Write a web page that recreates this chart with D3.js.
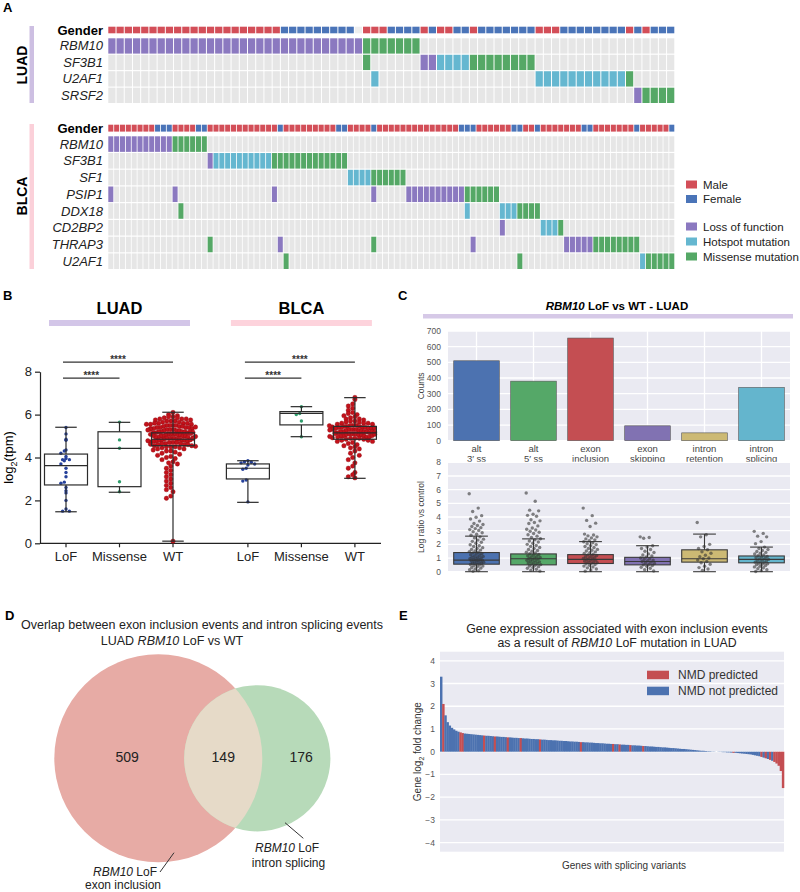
<!DOCTYPE html>
<html>
<head>
<meta charset="utf-8">
<script src="https://cdn.jsdelivr.net/npm/d3@7"></script>
<style>
  body { margin: 0; background: #fff; }
  text { font-family: "Liberation Sans", Arial, Helvetica, sans-serif; }
</style>
</head>
<body>
<div id="fig"></div>
<script>
'use strict';

// ---------- panel A data (runs: [firstCol, lastCol, code]) ----------
const luadGenes = ['RBM10', 'SF3B1', 'U2AF1', 'SRSF2'];
const luadCols = 69;
const luadGender = [[0,20,'male'],[21,29,'female'],[31,33,'male'],[34,37,'female'],[38,38,'male'],
  [39,39,'female'],[40,41,'male'],[42,43,'female'],[44,44,'male'],[45,51,'female'],[52,54,'male'],
  [55,62,'female'],[63,63,'male'],[64,64,'female'],[65,65,'male'],[66,68,'female']];
const luadRuns = [
  [[0,30,'L'],[31,37,'S']],
  [[31,31,'S'],[38,39,'L'],[40,43,'H'],[44,51,'S']],
  [[32,32,'H'],[52,62,'H'],[63,63,'S']],
  [[64,64,'L'],[65,68,'S']]
];

const blcaGenes = ['RBM10', 'SF3B1', 'SF1', 'PSIP1', 'DDX18', 'CD2BP2', 'THRAP3', 'U2AF1'];
const blcaCols = 97;
const blcaGender = [[0,7,'male'],[8,10,'female'],[11,14,'male'],[15,16,'female'],[17,28,'male'],
  [29,29,'female'],[30,38,'male'],[39,40,'female'],[41,44,'male'],[45,45,'female'],[46,59,'male'],
  [60,62,'female'],[63,68,'male'],[69,70,'female'],[71,72,'male'],[73,73,'female'],[74,80,'male'],
  [81,82,'female'],[83,89,'male'],[90,90,'female'],[91,95,'male'],[96,96,'female']];
const blcaRuns = [
  [[0,10,'L'],[11,16,'S']],
  [[17,17,'L'],[18,27,'H'],[28,40,'S']],
  [[41,44,'H'],[45,50,'S']],
  [[0,0,'L'],[11,11,'L'],[28,28,'L'],[45,45,'L'],[51,60,'L'],[61,66,'S']],
  [[12,12,'S'],[61,61,'H'],[67,69,'H'],[70,73,'S']],
  [[67,67,'L'],[74,76,'H'],[77,77,'S']],
  [[17,17,'S'],[29,29,'L'],[45,45,'S'],[62,62,'L'],[78,82,'L'],[83,90,'S']],
  [[30,30,'S'],[70,70,'S'],[91,91,'H'],[92,96,'S']]
];
const legendGender = [['Male','male'],['Female','female']];
const legendMut = [['Loss of function','L'],['Hotspot mutation','H'],['Missense mutation','S']];

// ---------- panel B data ----------
const bGroups = ['LoF', 'Missense', 'WT'];
// [lowWhisker, q1, median, q3, highWhisker]
const luadBox = [[1.47,2.72,3.62,4.16,5.41],[2.38,2.64,4.43,5.2,5.64],[0.1,4.55,4.85,5.15,6.11]];
const blcaBox = [[1.91,3.0,3.5,3.7,3.85],[4.97,5.52,6.06,6.14,6.37],[3.03,4.85,5.15,5.45,6.79]];
const luadLoF = [5.4,5.1,4.85,4.8,4.35,4.3,4.2,4.05,3.95,3.9,3.9,3.85,3.7,3.5,3.3,3.1,2.85,2.8,2.6,2.45,2.35,2.0,1.6,1.5,1.5];
const luadMissense = [5.65,4.82,4.43,2.87,2.4];
const luadWT = [6.1,6.0,5.95,5.9,5.9,5.85,5.85,5.8,5.8,5.8,5.75,5.75,5.7,5.7,5.7,5.65,5.65,5.6,5.6,5.6,5.6,
  5.55,5.55,5.55,5.5,5.5,5.5,5.5,5.45,5.45,5.45,5.4,5.4,5.4,5.4,5.35,5.35,5.35,5.3,5.3,5.3,5.3,5.25,5.25,
  5.25,5.2,5.2,5.2,5.2,5.15,5.15,5.15,5.1,5.1,5.1,5.1,5.05,5.05,5.05,5.0,5.0,5.0,5.0,4.95,4.95,4.95,4.9,
  4.9,4.9,4.9,4.85,4.85,4.85,4.8,4.8,4.8,4.8,4.75,4.75,4.75,4.7,4.7,4.7,4.65,4.65,4.65,4.6,4.6,4.6,4.55,
  4.55,4.5,4.5,4.5,4.45,4.45,4.4,4.4,4.35,4.3,4.3,4.25,4.2,4.15,4.1,4.05,4.0,3.95,3.9,3.8,3.75,3.7,3.6,
  3.5,3.4,3.3,3.2,3.1,3.0,2.9,2.8,2.7,2.6,2.5,2.4,2.2,2.1,0.1,
  5.22,5.12,5.02,4.92,4.82,4.72,4.62,5.32,5.42,4.52,5.08,4.98,4.88,4.78,5.18,5.28];
const blcaLoF = [3.85,3.8,3.78,3.75,3.7,3.65,3.5,3.45,2.95,2.9,1.93];
const blcaMissense = [6.37,6.05,6.0,5.7,4.97];
const blcaWT = [6.8,6.7,6.5,6.4,6.3,6.2,6.1,6.05,6.0,5.95,5.9,5.85,5.8,5.8,5.75,5.7,5.7,5.65,5.65,5.6,5.6,
  5.6,5.55,5.55,5.5,5.5,5.5,5.45,5.45,5.45,5.4,5.4,5.4,5.4,5.35,5.35,5.35,5.3,5.3,5.3,5.3,5.25,5.25,5.25,
  5.2,5.2,5.2,5.2,5.15,5.15,5.15,5.1,5.1,5.1,5.1,5.05,5.05,5.05,5.0,5.0,5.0,4.95,4.95,4.95,4.9,4.9,4.9,
  4.85,4.85,4.8,4.8,4.75,4.75,4.7,4.65,4.6,4.55,4.5,4.45,4.4,4.3,4.2,4.1,4.0,3.9,3.75,3.6,3.5,3.3,3.2,3.1,3.05,
  5.22,5.12,5.02,4.92,5.32,5.42,5.08,4.98,5.18,5.28,5.38,5.48];
const bYTicks = [0, 2, 4, 6, 8];

// ---------- panel C data ----------
const eventTypes = ['alt 3′ ss', 'alt 5′ ss', 'exon inclusion', 'exon skipping', 'intron retention', 'intron splicing'];
const eventLabels = [['alt','3′ ss'],['alt','5′ ss'],['exon','inclusion'],['exon','skipping'],['intron','retention'],['intron','splicing']];
const eventCounts = [510, 380, 655, 95, 50, 340];
const eventColors = ['#4c72b0', '#55a868', '#c44e52', '#8172b2', '#ccb974', '#64b5cd'];
const ratioBox = [[0,0.55,0.85,1.4,2.6],[0,0.5,0.95,1.3,2.4],[0,0.6,0.9,1.25,2.2],
  [0,0.5,0.75,1.05,1.9],[0,0.7,0.95,1.6,2.75],[0,0.65,0.9,1.15,1.8]];
const ratioAlt3 = [5.7,4.65,4.4,4.1,3.98,3.85,3.7,3.52,3.45,3.38,3.3,3.22,3.15,3.08,3.02,2.93,2.85,2.74,2.66,
  2.55,2.47,2.38,2.31,2.22,2.15,2.08,1.97,1.9,1.84,1.76,1.7,1.63,1.58,1.52,1.47,1.42,1.38,1.33,1.29,1.24,
  1.2,1.16,1.12,1.08,1.05,1.01,0.98,0.95,0.92,0.88,0.85,0.82,0.79,0.76,0.73,0.7,0.66,0.63,0.6,0.56,0.53,
  0.49,0.45,0.41,0.36,0.31,0.26,0.2,0.14,0.08,0.03];
const ratioAlt5 = [5.75,5.15,4.5,4.45,4.2,4.12,4.05,3.8,3.72,3.6,3.52,3.35,3.2,3.1,3.05,2.96,2.88,2.79,2.7,
  2.6,2.5,2.41,2.33,2.25,2.17,2.08,2.0,1.92,1.85,1.77,1.7,1.62,1.55,1.49,1.43,1.37,1.31,1.26,1.21,1.16,
  1.12,1.08,1.04,1.0,0.96,0.92,0.88,0.84,0.8,0.76,0.72,0.68,0.64,0.6,0.56,0.52,0.47,0.42,0.37,0.31,0.25,
  0.18,0.11,0.04];
const ratioIncl = [4.65,4.1,3.75,3.55,3.3,2.75,2.68,2.62,2.55,2.47,2.4,2.33,2.26,2.19,2.12,2.05,1.98,1.91,
  1.84,1.77,1.7,1.63,1.57,1.51,1.45,1.39,1.33,1.28,1.23,1.18,1.13,1.09,1.05,1.01,0.97,0.93,0.89,0.85,0.81,
  0.77,0.73,0.69,0.65,0.61,0.57,0.52,0.47,0.41,0.35,0.28,0.2,0.12,0.04];
const ratioSkip = [2.55,2.5,2.45,1.9,1.8,1.7,1.62,1.5,1.4,1.3,1.22,1.15,1.08,1.0,0.95,0.9,0.85,0.8,0.75,0.7,
  0.65,0.6,0.55,0.5,0.45,0.4,0.33,0.25,0.15,0.05];
const ratioRet = [3.6,2.7,2.55,2.0,1.85,1.7,1.6,1.45,1.35,1.2,1.1,1.0,0.95,0.85,0.75,0.65,0.55,0.4,0.3,0.2,0.1];
const ratioSpl = [2.95,2.8,2.6,2.55,2.2,2.05,1.8,1.7,1.62,1.55,1.48,1.41,1.35,1.29,1.23,1.17,1.12,1.07,1.02,
  0.98,0.94,0.9,0.86,0.82,0.78,0.74,0.7,0.66,0.62,0.58,0.54,0.5,0.45,0.4,0.35,0.29,0.22,0.15,0.08,0.02];
const ratioPoints = [ratioAlt3, ratioAlt5, ratioIncl, ratioSkip, ratioRet, ratioSpl];

// ---------- panel D data ----------
const vennCounts = [509, 149, 176];

// ---------- panel E data ----------
const foldChange = [3.3,2.1,1.6,1.3,1.15,1.05,0.98,0.92,0.88,0.85,0.82,
  0.8,0.79,0.78,0.77,0.76,0.75,0.74,0.73,0.72,0.71,
  0.70,0.70,0.69,0.68,0.67,0.67,0.66,0.65,0.65,0.64,
  0.63,0.63,0.62,0.61,0.61,0.60,0.60,0.59,0.58,0.58,
  0.57,0.56,0.56,0.55,0.55,0.54,0.53,0.53,0.52,0.51,
  0.51,0.50,0.50,0.49,0.48,0.48,0.47,0.47,0.46,0.45,
  0.45,0.44,0.44,0.43,0.42,0.42,0.41,0.41,0.40,0.40,
  0.39,0.38,0.38,0.37,0.37,0.36,0.35,0.35,0.34,0.34,
  0.33,0.33,0.32,0.31,0.31,0.30,0.30,0.29,0.28,0.28,
  0.27,0.27,0.26,0.25,0.25,0.24,0.23,0.23,0.22,0.21,
  0.21,0.20,0.19,0.19,0.18,0.17,0.16,0.16,0.15,0.14,
  0.13,0.12,0.12,0.11,0.10,0.09,0.08,0.07,0.06,0.05,
  0.04,0.04,0.03,0.02,0.02,0.01,0.01,0.00,-0.01,-0.01,
  -0.02,-0.02,-0.03,-0.03,-0.04,-0.05,-0.05,-0.06,-0.07,-0.08,
  -0.09,-0.10,-0.11,-0.12,-0.14,-0.16,-0.18,-0.20,-0.23,-0.26,
  -0.29,-0.32,-0.36,-0.40,-0.45,-0.52,-0.62,-0.85,-1.6];
const nmdPredicted = [1,9,10,20,25,31,37,46,65,80,83,88,94,136,149,151,153,155,156,157,158,159];
const eYTicks = [-4,-3,-2,-1,0,1,2,3,4];

// ---------- drawing ----------
const COLORS = { male: '#d34e58', female: '#4a74b8', L: '#8b79c0', H: '#65b7d0', S: '#55a866' };
const svg = d3.select('#fig').append('svg').attr('width', 800).attr('height', 892);

function richText(g, x, y, parts) {
  const t = g.append('text').attr('x', x).attr('y', y);
  parts.forEach(p => t.append('tspan').text(p[0]).attr('font-style', p[1] ? 'italic' : null));
  return t;
}

function panelLetter(txt, x, y) {
  svg.append('text').attr('x', x).attr('y', y).attr('font-size', 13).attr('font-weight', 'bold').text(txt);
}

function expand(runs, n) {
  const cells = d3.range(n).map(i => ({ i: i, v: null }));
  runs.forEach(r => { for (let i = r[0]; i <= r[1]; i++) cells[i].v = r[2]; });
  return cells;
}

function oncoprint(genes, runs, gender, n, genderY, rowsRange, pad) {
  const g = svg.append('g');
  const x = d3.scaleBand().domain(d3.range(n)).range([108.3, 674.3]).paddingInner(pad);
  const y = d3.scaleBand().domain(genes).range(rowsRange).paddingInner(0.07);

  g.selectAll('.gen').data(expand(gender, n)).join('rect')
    .attr('x', d => x(d.i)).attr('width', x.bandwidth())
    .attr('y', genderY[0]).attr('height', genderY[1] - genderY[0])
    .attr('fill', d => d.v ? COLORS[d.v] : '#eeeeee');

  genes.forEach((gene, gi) => {
    g.append('g').selectAll('rect').data(expand(runs[gi], n)).join('rect')
      .attr('x', d => x(d.i)).attr('width', x.bandwidth())
      .attr('y', y(gene)).attr('height', y.bandwidth())
      .attr('fill', d => d.v ? COLORS[d.v] : '#e6e6e6');
    g.append('text').attr('x', 103).attr('y', y(gene) + y.bandwidth() / 2 + 4.5)
      .attr('text-anchor', 'end').attr('font-size', 13).attr('font-style', 'italic')
      .attr('fill', '#222').text(gene);
  });
  g.append('text').attr('x', 103).attr('y', (genderY[0] + genderY[1]) / 2 + 4.5)
    .attr('text-anchor', 'end').attr('font-size', 13).attr('font-weight', 'bold').text('Gender');
}

// ---- Panel A ----
panelLetter('A', 3, 12);
oncoprint(luadGenes, luadRuns, luadGender, luadCols, [26.7, 33.3], [38.3, 103], 0.12);
oncoprint(blcaGenes, blcaRuns, blcaGender, blcaCols, [124.7, 131.6], [136.3, 269], 0.14);

svg.append('rect').attr('x', 29.5).attr('y', 26).attr('width', 4.5).attr('height', 77).attr('fill', '#cdbfe2');
svg.append('rect').attr('x', 29.5).attr('y', 124).attr('width', 4.5).attr('height', 145).attr('fill', '#fbd0d9');
svg.append('text').attr('transform', 'translate(27,65)rotate(-90)').attr('text-anchor', 'middle')
  .attr('font-size', 14).attr('font-weight', 'bold').text('LUAD');
svg.append('text').attr('transform', 'translate(27,196)rotate(-90)').attr('text-anchor', 'middle')
  .attr('font-size', 14).attr('font-weight', 'bold').text('BLCA');

const legendItems = legendGender.map((d, k) => ({ label: d[0], code: d[1], y: 184.5 + k * 14.5 }))
  .concat(legendMut.map((d, k) => ({ label: d[0], code: d[1], y: 226.5 + k * 15 })));
const leg = svg.append('g').selectAll('g').data(legendItems).join('g');
leg.append('rect').attr('x', 686).attr('y', d => d.y - 4).attr('width', 11).attr('height', 8)
  .attr('fill', d => COLORS[d.code]);
leg.append('text').attr('x', 703).attr('y', d => d.y + 4).attr('font-size', 11.5).attr('fill', '#222')
  .text(d => d.label);

// ---- Panel B ----
panelLetter('B', 3, 300);
const bY = d3.scaleLinear().domain([0, 8]).range([543.3, 371.7]);
const bX = d3.scaleLinear().domain([0, 1]).range([66, 119.5]);
const bAxisX = 40;
const bg = svg.append('g');

bg.append('g').attr('transform', `translate(${bAxisX},0)`)
  .call(d3.axisLeft(bY).tickValues(bYTicks).tickSize(5).tickSizeOuter(0).tickPadding(3))
  .call(a => a.selectAll('text').attr('font-size', 13).attr('fill', '#222')
    .attr('font-family', '"Liberation Sans", Arial, sans-serif'))
  .call(a => a.selectAll('line,path').attr('stroke', '#222').attr('stroke-width', 1.2));
bg.append('line').attr('x1', bAxisX).attr('x2', 381).attr('y1', bY(0)).attr('y2', bY(0))
  .attr('stroke', '#222').attr('stroke-width', 1.2);
const yl = bg.append('text').attr('transform', `translate(13,${bY(4)})rotate(-90)`)
  .attr('text-anchor', 'middle').attr('font-size', 13);
yl.append('tspan').text('log');
yl.append('tspan').text('2').attr('font-size', 9).attr('dy', 4);
yl.append('tspan').text('(tpm)').attr('dy', -4);

const bSets = [
  { name: 'LUAD', box: luadBox, pts: [luadLoF, luadMissense, luadWT], offset: 0, bar: '#d3c6e8' },
  { name: 'BLCA', box: blcaBox, pts: [blcaLoF, blcaMissense, blcaWT], offset: 3.4, bar: '#fdd3dc' }
];
const dotColors = ['#26419a', '#2f9d6c', '#c3121b'];

function swarm(values, cx, yScale, r, maxHalf) {
  const pts = values.map(v => ({ v: v, py: yScale(v) }));
  const bins = d3.group(pts, d => Math.round(d.py / (2 * r)));
  const out = [];
  for (const [, arr] of bins) {
    const step = Math.min(2 * r, arr.length > 1 ? (2 * maxHalf) / (arr.length - 1) : 2 * r);
    arr.forEach((p, k) => {
      const side = k % 2 ? -1 : 1;
      const off = side * Math.ceil(k / 2) * step - (arr.length % 2 === 0 ? step / 2 : 0);
      out.push({ x: cx + off, y: p.py });
    });
  }
  return out;
}

bSets.forEach(set => {
  const c0 = bX(set.offset), c2 = bX(set.offset + 2);
  bg.append('text').attr('x', (c0 + c2) / 2).attr('y', 314).attr('text-anchor', 'middle')
    .attr('font-size', 16.5).attr('font-weight', 'bold').text(set.name);
  bg.append('rect').attr('x', (c0 + c2) / 2 - 70.5).attr('y', 320).attr('width', 141).attr('height', 6)
    .attr('fill', set.bar);
  // significance bars
  [[2, bY(8) - 9.5], [1, bY(8) + 6.5]].forEach(s => {
    const xe = bX(set.offset + s[0]);
    bg.append('line').attr('x1', c0 - 3).attr('x2', xe).attr('y1', s[1]).attr('y2', s[1])
      .attr('stroke', '#333').attr('stroke-width', 1.2);
    bg.append('text').attr('x', (c0 - 3 + xe) / 2).attr('y', s[1] + 1).attr('text-anchor', 'middle')
      .attr('font-size', 10).attr('font-weight', 'bold').attr('fill', '#333').text('****');
  });
  bGroups.forEach((grp, gi) => {
    const cx = bX(set.offset + gi);
    const st = set.box[gi];
    const hw = 21.5;
    bg.append('text').attr('x', cx).attr('y', 561).attr('text-anchor', 'middle').attr('font-size', 13)
      .attr('fill', '#222').text(grp);
    bg.append('line').attr('x1', cx).attr('x2', cx).attr('y1', bY(0)).attr('y2', bY(0) + 4)
      .attr('stroke', '#222').attr('stroke-width', 1.2);
    const r = gi === 2 ? 2.2 : 1.7;
    const dots = swarm(set.pts[gi], cx, bY, r, gi === 2 ? hw + 1 : 8);
    bg.append('g').selectAll('circle').data(dots).join('circle')
      .attr('cx', d => d.x).attr('cy', d => d.y).attr('r', r)
      .attr('fill', dotColors[gi]).attr('stroke', gi === 2 ? '#8e0c12' : 'none').attr('stroke-width', 0.4);
    const bx = bg.append('g').attr('stroke', '#2b2b2b').attr('stroke-width', 1.2).attr('fill', 'none');
    bx.append('rect').attr('x', cx - hw).attr('width', 2 * hw).attr('y', bY(st[3])).attr('height', bY(st[1]) - bY(st[3]));
    bx.append('line').attr('x1', cx - hw).attr('x2', cx + hw).attr('y1', bY(st[2])).attr('y2', bY(st[2]));
    bx.append('line').attr('x1', cx).attr('x2', cx).attr('y1', bY(st[3])).attr('y2', bY(st[4]));
    bx.append('line').attr('x1', cx).attr('x2', cx).attr('y1', bY(st[1])).attr('y2', bY(st[0]));
    bx.append('line').attr('x1', cx - hw / 2).attr('x2', cx + hw / 2).attr('y1', bY(st[4])).attr('y2', bY(st[4]));
    bx.append('line').attr('x1', cx - hw / 2).attr('x2', cx + hw / 2).attr('y1', bY(st[0])).attr('y2', bY(st[0]));
  });
});

// ---- Panel C ----
panelLetter('C', 398, 300);
const cg = svg.append('g');
richText(cg, 617, 310, [['RBM10', true], [' LoF vs WT - LUAD', false]])
  .attr('text-anchor', 'middle').attr('font-size', 11.5).attr('font-weight', 'bold');
cg.append('rect').attr('x', 423).attr('y', 314).attr('width', 370).attr('height', 4.5).attr('fill', '#d6c9e7');

const cX = d3.scaleBand().domain(eventTypes).range([448, 790]).paddingInner(0.2).paddingOuter(0.1);
const cY1 = d3.scaleLinear().domain([0, 700]).range([440.7, 331]);
const cY2 = d3.scaleLinear().domain([0, 8]).range([571.7, 462.3]);

function seabornFrame(yScale, ticks, withVert) {
  cg.append('rect').attr('x', 448).attr('width', 342).attr('y', yScale.range()[1])
    .attr('height', yScale.range()[0] - yScale.range()[1]).attr('fill', '#eaeaf2');
  cg.append('g').selectAll('line').data(ticks).join('line')
    .attr('x1', 448).attr('x2', 790).attr('y1', d => yScale(d)).attr('y2', d => yScale(d))
    .attr('stroke', '#fff').attr('stroke-width', 1.3);
  if (withVert) {
    cg.append('g').selectAll('line').data(eventTypes).join('line')
      .attr('x1', d => cX(d) + cX.bandwidth() / 2).attr('x2', d => cX(d) + cX.bandwidth() / 2)
      .attr('y1', yScale.range()[1]).attr('y2', yScale.range()[0])
      .attr('stroke', '#fff').attr('stroke-width', 1.3);
  }
  cg.append('g').selectAll('text').data(ticks).join('text')
    .attr('x', 441).attr('y', d => yScale(d) + 3).attr('text-anchor', 'end')
    .attr('font-size', 8.5).attr('fill', '#555').text(d => d);
}
seabornFrame(cY1, d3.range(0, 701, 100), true);
cg.append('g').selectAll('rect').data(eventTypes).join('rect')
  .attr('x', d => cX(d)).attr('width', cX.bandwidth())
  .attr('y', (d, i) => cY1(eventCounts[i])).attr('height', (d, i) => cY1(0) - cY1(eventCounts[i]))
  .attr('fill', (d, i) => eventColors[i]).attr('stroke', '#555').attr('stroke-width', 0.6);
eventTypes.forEach((d, i) => {
  const cx = cX(d) + cX.bandwidth() / 2;
  eventLabels[i].forEach((ln, k) => cg.append('text').attr('x', cx).attr('y', 452 + k * 10)
    .attr('text-anchor', 'middle').attr('font-size', 9.5).attr('fill', '#444').text(ln));
});
cg.append('text').attr('transform', `translate(424,${cY1(350)})rotate(-90)`).attr('text-anchor', 'middle')
  .attr('font-size', 8.5).attr('fill', '#444').text('Counts');

seabornFrame(cY2, d3.range(0, 9), false);
cg.append('text').attr('transform', `translate(424,${cY2(4)})rotate(-90)`).attr('text-anchor', 'middle')
  .attr('font-size', 8.5).attr('fill', '#444').text('Log ratio vs control');
eventTypes.forEach((d, i) => {
  const x0 = cX(d), w = cX.bandwidth(), cx = x0 + w / 2, st = ratioBox[i];
  const bx = cg.append('g').attr('stroke', '#3a3a3a').attr('stroke-width', 1.1);
  bx.append('line').attr('x1', cx).attr('x2', cx).attr('y1', cY2(st[3])).attr('y2', cY2(st[4]));
  bx.append('line').attr('x1', cx).attr('x2', cx).attr('y1', cY2(st[1])).attr('y2', cY2(st[0]));
  bx.append('line').attr('x1', cx - w / 4).attr('x2', cx + w / 4).attr('y1', cY2(st[4])).attr('y2', cY2(st[4]));
  bx.append('line').attr('x1', cx - w / 4).attr('x2', cx + w / 4).attr('y1', cY2(st[0])).attr('y2', cY2(st[0]));
  bx.append('rect').attr('x', x0).attr('width', w).attr('y', cY2(st[3]))
    .attr('height', cY2(st[1]) - cY2(st[3])).attr('fill', eventColors[i]);
  bx.append('line').attr('x1', x0).attr('x2', x0 + w).attr('y1', cY2(st[2])).attr('y2', cY2(st[2]));
  cg.append('g').selectAll('circle').data(ratioPoints[i]).join('circle')
    .attr('cx', (v, k) => cx + (((k * 0.618034) % 1) - 0.5) * w * 0.32)
    .attr('cy', v => cY2(v)).attr('r', 1.7)
    .attr('fill', '#333').attr('fill-opacity', 0.6);
});

// ---- Panel D ----
panelLetter('D', 5, 620);
const dg = svg.append('g');
dg.append('text').attr('x', 202).attr('y', 629).attr('text-anchor', 'middle').attr('font-size', 12.5)
  .attr('fill', '#222').text('Overlap between exon inclusion events and intron splicing events');
richText(dg, 172, 645, [['LUAD ', false], ['RBM10', true], [' LoF vs WT', false]])
  .attr('text-anchor', 'middle').attr('font-size', 12.5).attr('fill', '#222');

const setA = vennCounts[0] + vennCounts[1], setB = vennCounts[1] + vennCounts[2];
const rScale = d3.scaleSqrt().domain([0, setA]).range([0, 104]);
const cA = [158.3, 758.3], cB = [257.3, 758.3];
const rA = rScale(setA), rB = rScale(setB);
const defs = svg.append('defs');
defs.append('clipPath').attr('id', 'clipA').append('circle').attr('cx', cA[0]).attr('cy', cA[1]).attr('r', rA);
dg.append('circle').attr('cx', cA[0]).attr('cy', cA[1]).attr('r', rA).attr('fill', '#e7aba5');
dg.append('circle').attr('cx', cB[0]).attr('cy', cB[1]).attr('r', rB).attr('fill', '#b7dab9');
dg.append('circle').attr('cx', cB[0]).attr('cy', cB[1]).attr('r', rB).attr('fill', '#e6dac8')
  .attr('clip-path', 'url(#clipA)');
const numX = [cA[0] - rA * 0.3, (cB[0] - rB + cA[0] + rA) / 2, cB[0] + rB * 0.6];
dg.selectAll('.vn').data(vennCounts).join('text')
  .attr('x', (d, i) => numX[i]).attr('y', 762).attr('text-anchor', 'middle')
  .attr('font-size', 14).attr('fill', '#222').text(d => d);
dg.append('line').attr('x1', 174).attr('y1', 852.7).attr('x2', 160).attr('y2', 872).attr('stroke', '#333');
dg.append('line').attr('x1', 285).attr('y1', 822.7).attr('x2', 303.3).attr('y2', 838.3).attr('stroke', '#333');
richText(dg, 125, 876, [['RBM10', true], [' LoF', false]]).attr('text-anchor', 'middle').attr('font-size', 12).attr('fill', '#222');
dg.append('text').attr('x', 123).attr('y', 889).attr('text-anchor', 'middle').attr('font-size', 12).attr('fill', '#222').text('exon inclusion');
richText(dg, 287, 851.7, [['RBM10', true], [' LoF', false]]).attr('text-anchor', 'middle').attr('font-size', 12).attr('fill', '#222');
dg.append('text').attr('x', 288.5).attr('y', 866.5).attr('text-anchor', 'middle').attr('font-size', 12).attr('fill', '#222').text('intron splicing');

// ---- Panel E ----
panelLetter('E', 399, 620);
const eg = svg.append('g');
eg.append('text').attr('x', 617).attr('y', 633).attr('text-anchor', 'middle').attr('font-size', 12.3)
  .attr('fill', '#222').text('Gene expression associated with exon inclusion events');
richText(eg, 617, 647, [['as a result of ', false], ['RBM10', true], [' LoF mutation in LUAD', false]])
  .attr('text-anchor', 'middle').attr('font-size', 12.3).attr('fill', '#222');
const eX = d3.scaleBand().domain(d3.range(foldChange.length)).range([440, 784]);
const eY = d3.scaleLinear().domain([-4.4, 4.4]).range([851.7, 651.7]);
eg.append('rect').attr('x', 440).attr('width', 344).attr('y', 651.7).attr('height', 200).attr('fill', '#eaeaf2');
eg.append('g').selectAll('line').data(eYTicks).join('line')
  .attr('x1', 440).attr('x2', 784).attr('y1', d => eY(d)).attr('y2', d => eY(d))
  .attr('stroke', '#fff').attr('stroke-width', 1.3);
eg.append('g').selectAll('text').data(eYTicks).join('text')
  .attr('x', 435).attr('y', d => eY(d) + 3).attr('text-anchor', 'end').attr('font-size', 8.5)
  .attr('fill', '#555').text(d => d < 0 ? '\u2212' + (-d) : d);
const nmdSet = new Set(nmdPredicted);
eg.append('g').selectAll('rect').data(foldChange).join('rect')
  .attr('x', (d, i) => eX(i)).attr('width', eX.bandwidth() + 0.3)
  .attr('y', d => eY(Math.max(0, d))).attr('height', d => Math.abs(eY(d) - eY(0)))
  .attr('fill', (d, i) => nmdSet.has(i) ? '#c44e52' : '#4c72b0');
const eyl = eg.append('text').attr('transform', `translate(421,${eY(0)})rotate(-90)`)
  .attr('text-anchor', 'middle').attr('font-size', 10).attr('fill', '#333');
eyl.append('tspan').text('Gene log');
eyl.append('tspan').text('2').attr('font-size', 7).attr('dy', 3);
eyl.append('tspan').text(' fold change').attr('dy', -3);
eg.append('text').attr('x', 624).attr('y', 869).attr('text-anchor', 'middle').attr('font-size', 10)
  .attr('fill', '#333').text('Genes with splicing variants');
const eLegend = [['NMD predicted', '#c44e52'], ['NMD not predicted', '#4c72b0']];
const el = eg.append('g').selectAll('g').data(eLegend).join('g');
el.append('rect').attr('x', 647).attr('y', (d, i) => 670.7 + i * 16).attr('width', 22).attr('height', 8.5)
  .attr('fill', d => d[1]);
el.append('text').attr('x', 678).attr('y', (d, i) => 679 + i * 16).attr('font-size', 12)
  .attr('fill', '#333').text(d => d[0]);
</script>
</body>
</html>
